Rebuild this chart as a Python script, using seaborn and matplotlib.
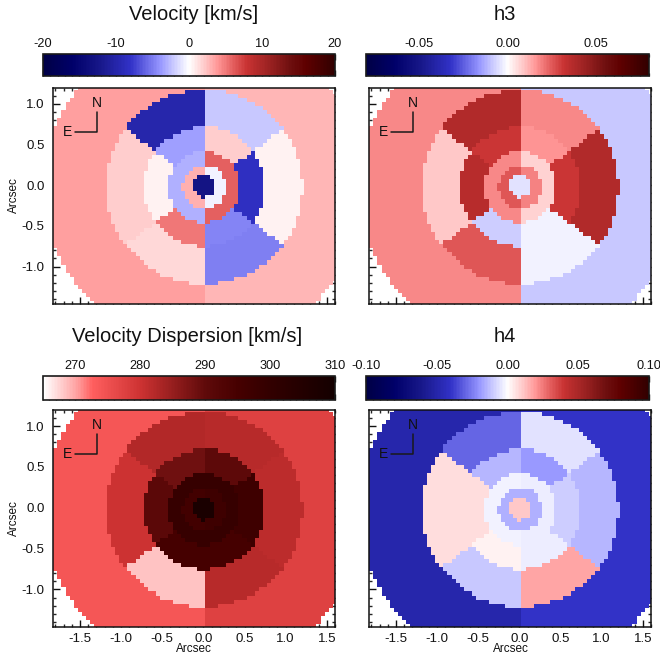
import numpy as np
import pandas as pd
import seaborn as sns
import matplotlib
matplotlib.use("Agg")
import matplotlib.pyplot as plt
from matplotlib.colors import LinearSegmentedColormap
from matplotlib.ticker import FuncFormatter

sns.set_theme(style="white")
plt.rcParams['font.family'] = ['Liberation Sans', 'DejaVu Sans']
plt.rcParams['axes.unicode_minus'] = False

W, H = 660, 655

# Values per bin. Sector order: NE, E, SE, SW, W, NW; halves: left, right
vel_core = -12.8
vel_r1 = [3.0, -0.5]
vel_r2 = [-3.0, 6.0]
vel_r3 = [-3.6, 0.5, 5.0, -4.6, -8.5, 2.0]
vel_r4 = [-10.0, 2.0, 1.6, -4.8, 0.6, -2.2]
vel_r5 = [3.6, 2.8]

h3_core = -0.005
h3_r1 = [0.025, 0.019]
h3_r2 = [0.018, 0.007]
h3_r3 = [0.031, 0.036, -0.008, -0.002, 0.031, 0.016]
h3_r4 = [0.038, 0.009, 0.025, -0.002, 0.038, 0.0176]
h3_r5 = [0.0176, -0.009]

sig_core = 308
sig_r1 = [296, 297]
sig_r2 = [299, 299]
sig_r3 = [288.5, 291, 295, 295, 297, 290.5]
sig_r4 = [282.5, 280, 268.5, 282, 281.5, 282]
sig_r5 = [274, 277.5]

h4_core = 0.011
h4_r1 = [-0.015, -0.015]
h4_r2 = [-0.0025, -0.004]
h4_r3 = [-0.014, 0.0065, 0.003, -0.004, -0.010, -0.019]
h4_r4 = [-0.030, 0.007, -0.011, 0.017, -0.014, -0.006]
h4_r5 = [-0.050, -0.040]

ring_edges = [0.135, 0.265, 0.435, 0.735, 1.195, 1.96]
ring_center = (0.01, -0.02)
sector_split_deg = 36.5
pix = 0.05
x_centers = np.arange(-1.85, 1.6001, pix)
y_centers = np.arange(1.20, -1.4501, -pix)

X_TICKS = [-1.5, -1.0, -0.5, 0.0, 0.5, 1.0, 1.5]
Y_TICKS = [1.0, 0.5, 0.0, -0.5, -1.0]
X_LIM = (-1.828, 1.60)
Y_LIM = (-1.46, 1.196)


def sector(x, y):
    ang = np.degrees(np.arctan2(abs(y), abs(x) + 1e-9))
    left = x < 0.01
    if ang < sector_split_deg:
        return 1 if left else 4
    if y > 0:
        return 0 if left else 5
    return 2 if left else 3


def build(core, r1, r2, r3, r4, r5):
    g = np.full((len(y_centers), len(x_centers)), np.nan)
    for i, yc in enumerate(y_centers):
        for j, xc in enumerate(x_centers):
            x, y = xc - ring_center[0], yc - ring_center[1]
            r = np.hypot(x, y)
            side = 0 if xc < 0.02 else 1
            if r < ring_edges[0]:
                g[i, j] = core
            elif r < ring_edges[1]:
                g[i, j] = r1[side]
            elif r < ring_edges[2]:
                g[i, j] = r2[side]
            elif r < ring_edges[3]:
                g[i, j] = r3[sector(x, y)]
            elif r < ring_edges[4]:
                g[i, j] = r4[sector(x, y)]
            elif r < ring_edges[5]:
                g[i, j] = r5[side]
    return pd.DataFrame(g, index=np.round(y_centers, 3), columns=np.round(x_centers, 3))


def c(r, g, b):
    return (r / 255, g / 255, b / 255)


div_cmap = LinearSegmentedColormap.from_list("div", [
    (0.00, c(0, 0, 70)), (0.10, c(0, 0, 105)), (0.20, c(25, 25, 140)),
    (0.30, c(50, 50, 200)), (0.40, c(150, 150, 255)), (0.45, c(205, 205, 255)),
    (0.50, c(255, 255, 255)), (0.55, c(255, 205, 205)), (0.60, c(255, 150, 150)),
    (0.65, c(228, 95, 95)), (0.70, c(200, 50, 50)), (0.75, c(170, 40, 40)),
    (0.85, c(110, 15, 15)), (0.90, c(95, 0, 0)), (1.00, c(50, 0, 0))], N=192)
seq_cmap = LinearSegmentedColormap.from_list("seq", [
    (0.00, c(255, 255, 255)), (0.11, c(255, 165, 165)), (0.167, c(255, 95, 95)),
    (0.333, c(205, 50, 50)), (0.444, c(150, 30, 30)), (0.556, c(95, 10, 10)),
    (0.667, c(70, 0, 0)), (0.78, c(50, 0, 0)), (1.00, c(20, 0, 0))], N=192)


def px_axes(fig, left, top, right, bottom):
    return fig.add_axes([left / W, 1 - bottom / H, (right - left) / W, (bottom - top) / H])


def to_xi(v):
    return (np.asarray(v, float) - x_centers[0]) / pix + 0.5


def to_yi(v):
    return (y_centers[0] - np.asarray(v, float)) / pix + 0.5


def panel(fig, title, tx, ty, df, cmap, vmin, vmax, ticks, minor, fmt, box, cbox,
          xlabels, ylabels):
    ax = px_axes(fig, *box)
    cax = px_axes(fig, *cbox)
    sns.heatmap(df, ax=ax, cbar_ax=cax, cmap=cmap, vmin=vmin, vmax=vmax,
                xticklabels=False, yticklabels=False,
                cbar_kws={"orientation": "horizontal", "ticks": ticks})
    ax.set_xlim(to_xi(X_LIM[0]), to_xi(X_LIM[1]))
    ax.set_ylim(to_yi(Y_LIM[0]), to_yi(Y_LIM[1]))
    ax.set_xlabel("")
    ax.set_ylabel("")

    ax.set_xticks(to_xi(X_TICKS))
    ax.set_yticks(to_yi(Y_TICKS))
    ax.set_xticks(to_xi(np.arange(-1.8, 1.6001, 0.1)), minor=True)
    ax.set_yticks(to_yi(np.arange(-1.4, 1.1501, 0.1)), minor=True)
    ax.set_xticklabels([f"{t:.1f}" for t in X_TICKS] if xlabels else [])
    ax.set_yticklabels([f"{t:.1f}" for t in Y_TICKS] if ylabels else [], rotation=0)
    ax.tick_params(axis="y", which="major", pad=6)
    ax.tick_params(which="major", direction="in", length=5, width=1, top=True, right=True,
                   bottom=True, left=True, labelsize=9.5, colors="#111111")
    ax.tick_params(axis="x", which="major", pad=4)
    ax.tick_params(which="minor", direction="in", length=2.5, width=1, top=True, right=True,
                   bottom=True, left=True)
    for s in ax.spines.values():
        s.set_visible(True)
        s.set_linewidth(1.1)
        s.set_color("#111111")

    # compass
    tr = ax.transAxes
    ax.plot([0.079, 0.156, 0.156], [0.796, 0.796, 0.89], color="k", lw=1.1, transform=tr,
            clip_on=False)
    ax.text(0.053, 0.796, "E", transform=tr, ha="center", va="center", fontsize=10, color="#111111")
    ax.text(0.156, 0.93, "N", transform=tr, ha="center", va="center", fontsize=10, color="#111111")

    # colour bar
    cbar = ax.collections[0].colorbar
    cbar.outline.set_visible(True)
    cbar.outline.set_linewidth(1.2)
    cbar.outline.set_edgecolor("k")
    cbar.ax.xaxis.set_ticks(np.arange(vmin, vmax + minor / 2, minor), minor=True)
    cbar.ax.xaxis.set_major_formatter(FuncFormatter(lambda v, p: fmt.format(v)))
    cbar.ax.tick_params(axis="x", which="major", direction="in", length=4, width=1, top=True,
                        bottom=True, labeltop=True, labelbottom=False, labelsize=9.2,
                        colors="#111111", pad=3)
    cbar.ax.tick_params(axis="x", which="minor", direction="in", length=2, width=0.9, top=True,
                        bottom=True)

    fig.text(tx / W, 1 - ty / H, title, ha="center", va="center", fontsize=14.5, color="#111111")
    return ax


fig = plt.figure(figsize=(W / 100, H / 100), dpi=100, facecolor="white")

panel(fig, "Velocity [km/s]", 194, 15,
      build(vel_core, vel_r1, vel_r2, vel_r3, vel_r4, vel_r5),
      div_cmap, -20, 20, [-20, -10, 0, 10, 20], 1, "{:.0f}",
      (53, 88, 335, 304), (43, 54, 335, 76), False, True)
panel(fig, "h3", 505, 15,
      build(h3_core, h3_r1, h3_r2, h3_r3, h3_r4, h3_r5),
      div_cmap, -0.08, 0.08, [-0.05, 0.0, 0.05], 0.005, "{:.2f}",
      (369, 88, 651, 304), (366, 54, 649, 76), False, False)
panel(fig, "Velocity Dispersion [km/s]", 187, 337,
      build(sig_core, sig_r1, sig_r2, sig_r3, sig_r4, sig_r5),
      seq_cmap, 265, 310, [270, 280, 290, 300, 310], 1, "{:.0f}",
      (53, 410, 335, 627), (43, 376, 335, 400), True, True)
panel(fig, "h4", 505, 337,
      build(h4_core, h4_r1, h4_r2, h4_r3, h4_r4, h4_r5),
      div_cmap, -0.10, 0.10, [-0.10, -0.05, 0.0, 0.05, 0.10], 0.005, "{:.2f}",
      (369, 410, 651, 627), (366, 376, 649, 400), True, False)

for x, y, rot in [(14, 195, 90), (14, 518, 90), (194, 649.5, 0), (511, 649.5, 0)]:
    fig.text(x / W, 1 - y / H, "Arcsec", rotation=rot, ha="center", va="center",
             fontsize=8.5, color="#111111")

fig.savefig("out.png", dpi=100, facecolor="white")
